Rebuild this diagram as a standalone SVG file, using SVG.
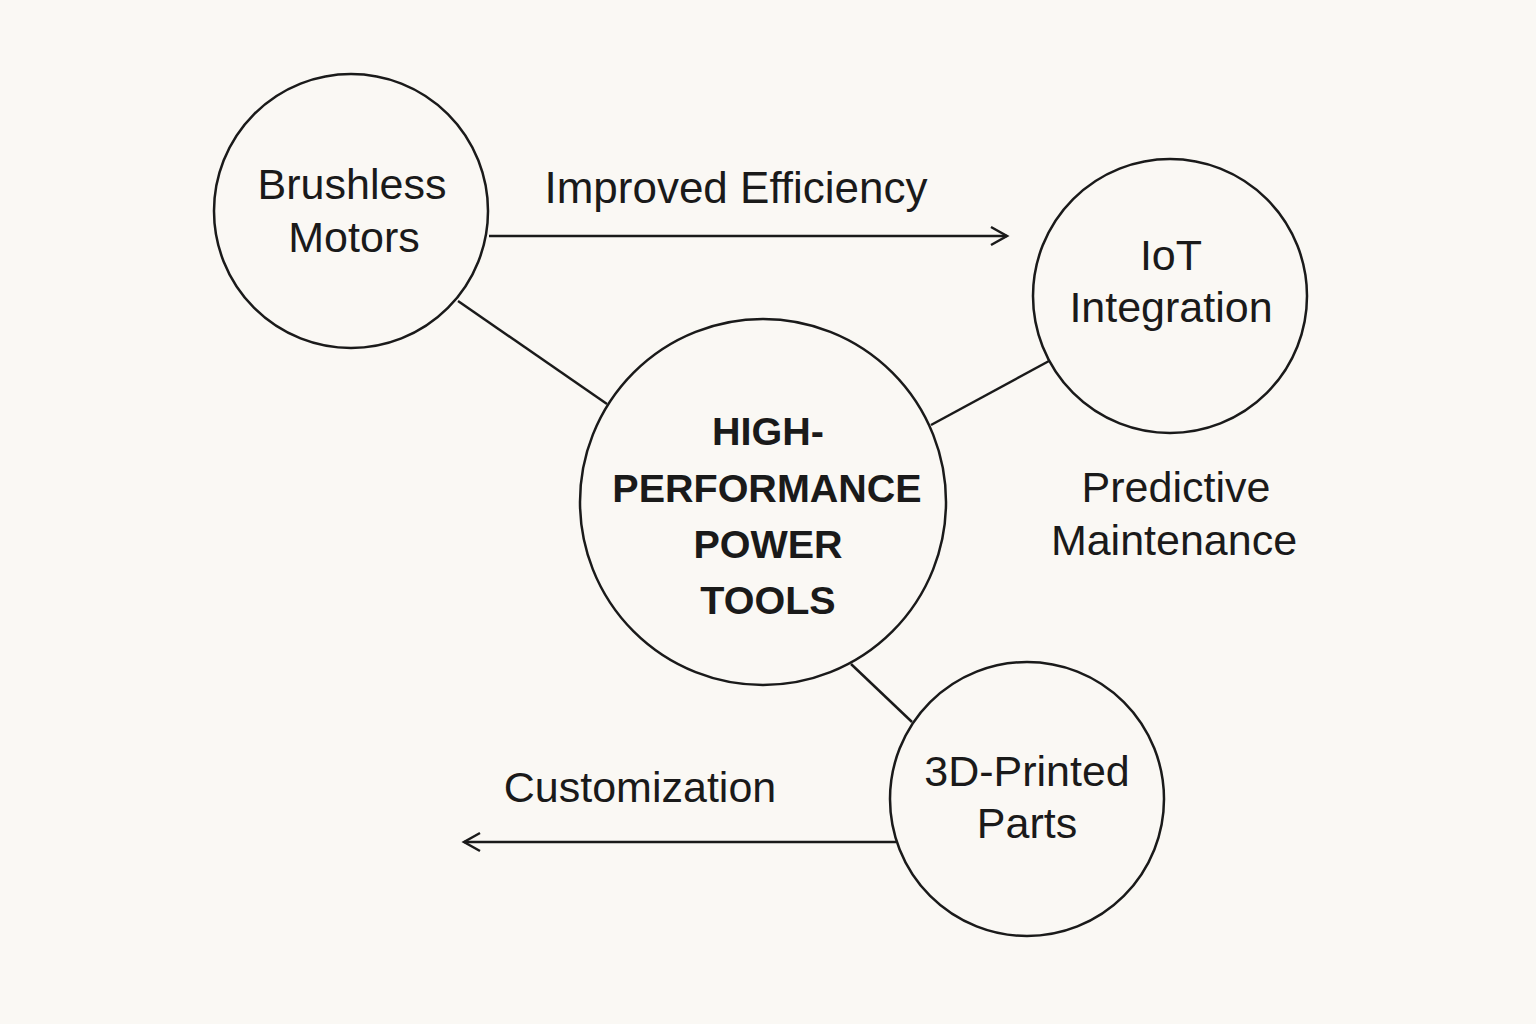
<svg xmlns="http://www.w3.org/2000/svg" width="1536" height="1024" viewBox="0 0 1536 1024">
<defs>
<style>
.node{fill:none;stroke:#1a1a1a;stroke-width:2.5}
.edge{fill:none;stroke:#1a1a1a;stroke-width:2.5}
.lbl{font-family:"Liberation Sans",Arial,sans-serif;font-size:43px;fill:#1a1a1a;text-anchor:middle}
.hub{font-family:"Liberation Sans",Arial,sans-serif;font-size:39.5px;font-weight:bold;fill:#1a1a1a;text-anchor:middle}
</style>
<marker id="arr" viewBox="0 0 24 24" refX="21" refY="12" markerWidth="24" markerHeight="24" markerUnits="userSpaceOnUse" orient="auto">
<path d="M5,3 L21,12 L5,21" fill="none" stroke="#1a1a1a" stroke-width="2.5"/>
</marker>
</defs>
<rect width="1536" height="1024" fill="#faf8f4"/>
<g id="connectors">
<line class="edge" x1="458" y1="301" x2="607" y2="404"/>
<line class="edge" x1="1049" y1="361" x2="931" y2="425"/>
<line class="edge" x1="851" y1="664" x2="912" y2="722"/>
<line class="edge" x1="489" y1="236" x2="1007" y2="236" marker-end="url(#arr)"/>
<line class="edge" x1="896" y1="842" x2="464" y2="842" marker-end="url(#arr)"/>
<text class="lbl" x="736" y="203" style="font-size:44px">Improved Efficiency</text>
<text class="lbl" x="1176" y="502">Predictive</text>
<text class="lbl" x="1174" y="555">Maintenance</text>
<text class="lbl" x="640" y="802">Customization</text>
</g>
<g id="brushless">
<circle class="node" cx="351" cy="211" r="137"/>
<text class="lbl" x="352" y="199">Brushless</text>
<text class="lbl" x="354" y="252">Motors</text>
</g>
<g id="iot">
<circle class="node" cx="1170" cy="296" r="137"/>
<text class="lbl" x="1171" y="270">IoT</text>
<text class="lbl" x="1171" y="322">Integration</text>
</g>
<g id="hub">
<circle class="node" cx="763" cy="502" r="183"/>
<text class="hub" x="768" y="445">HIGH-</text>
<text class="hub" x="767" y="502">PERFORMANCE</text>
<text class="hub" x="768" y="558">POWER</text>
<text class="hub" x="768" y="614">TOOLS</text>
</g>
<g id="printed">
<circle class="node" cx="1027" cy="799" r="137"/>
<text class="lbl" x="1027" y="786">3D-Printed</text>
<text class="lbl" x="1027" y="838">Parts</text>
</g>
</svg>
